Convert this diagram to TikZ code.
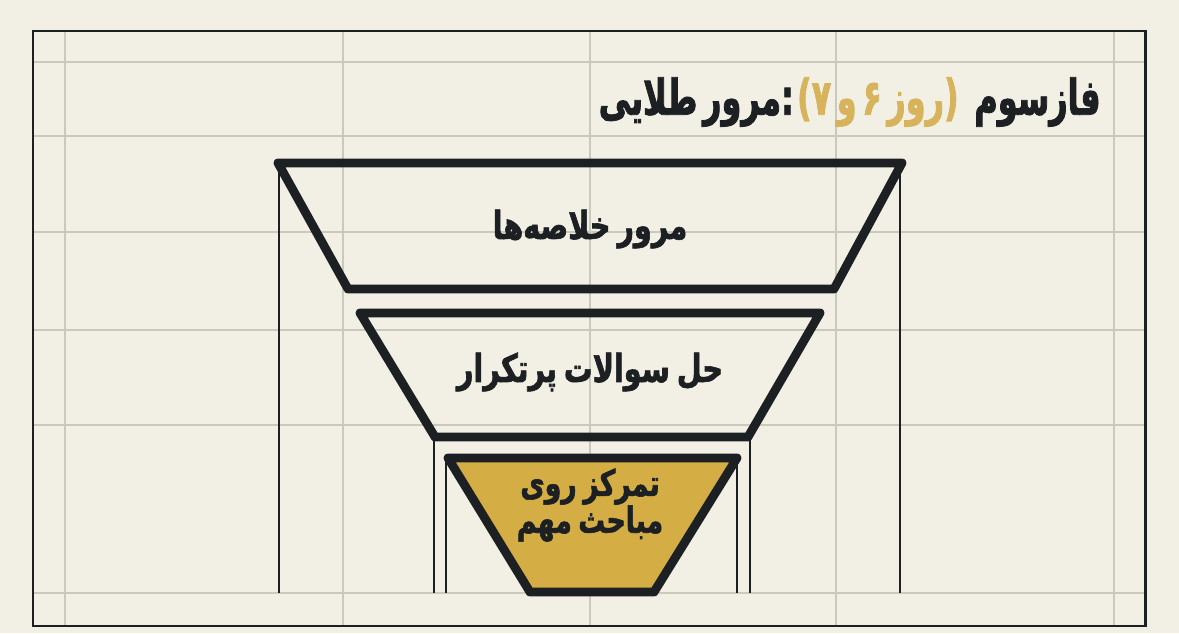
\documentclass[tikz,border=0pt]{standalone}
\usepackage{fontspec}
\usepackage{tikz}
\usetikzlibrary{positioning}
\TeXXeTstate=1
\newfontfamily\farsifont[Script=Arabic, FakeStretch=0.74, FakeBold=1.6, WordSpace=0.7]{DejaVu Sans}
\newfontfamily\titlefont[Script=Arabic, FakeStretch=0.65, FakeBold=1.6, WordSpace=0.5]{DejaVu Sans}
\newfontfamily\bracketfont[FakeStretch=0.65, FakeBold=1.6]{DejaVu Sans}
\definecolor{paper}{HTML}{F2F0E5}
\definecolor{gridgray}{HTML}{CBC8BC}
\definecolor{ink}{HTML}{1C2022}
\definecolor{goldfill}{HTML}{D4AD45}
\definecolor{goldtext}{HTML}{D7B45C}

\begin{document}
\begin{tikzpicture}[
    gridline/.style={draw=gridgray, line width=0.8pt},
    frameline/.style={draw=ink, line width=1.3pt},
    % 漏斗梯形:粗黑邊,圓角接點
    funnel/.style={draw=ink, line width=5pt, line join=round},
    titletext/.style={font=\titlefont\bfseries\fontsize{28}{32}\selectfont, text=ink, inner sep=0pt},
    funneltext/.style={font=\farsifont\bfseries\fontsize{22}{26}\selectfont, text=ink, inner sep=0pt}
]

% --- 1. 背景與格線 ---
\fill[paper] (0,0) rectangle (23.58,12.66);
\foreach \x in {1.3,6.86,11.8,16.72,22.28}
    \draw[gridline] (\x,0.14) -- (\x,12.04);
\foreach \y in {11.42,9.94,8.02,6.06,4.16,0.8}
    \draw[gridline] (0.66,\y) -- (22.9,\y);

% --- 2. 外框 ---
\draw[ink, line width=1.7pt] (0.66,0.14) rectangle (22.9,12.04);

% --- 3. 細直線 (漏斗兩側) ---
\draw[frameline] (5.58,9.36) -- (5.58,0.8);
\draw[frameline] (18.0,9.36) -- (18.0,0.8);
\draw[frameline] (8.68,3.92) -- (8.68,0.8);
\draw[frameline] (15.0,3.92) -- (15.0,0.8);
\draw[frameline] (8.92,3.5) -- (8.92,0.8);
\draw[frameline] (14.74,3.5) -- (14.74,0.8);

% --- 4. 三層梯形 ---
\draw[funnel] (5.56,9.4) -- (18.04,9.4) -- (16.68,6.88) -- (6.96,6.88) -- cycle;
\draw[funnel] (7.2,6.4) -- (16.4,6.4) -- (14.96,3.92) -- (8.7,3.92) -- cycle;
\draw[funnel, fill=goldfill] (8.96,3.5) -- (14.74,3.5) -- (13.08,0.82) -- (10.6,0.82) -- cycle;

% --- 5. 文字 ---
\node[funneltext] (summary) at (11.8,8.08) {\beginR مرور خلاصه‌ها\endR};
\node[funneltext] (frequent) at (11.8,5.22) {\beginR حل سوالات پرتکرار\endR};
\node[funneltext, align=center, font=\farsifont\bfseries\fontsize{20.5}{21}\selectfont]
    (focus) at (11.8,2.56) {\beginR تمرکز روی\endR\\\beginR مباحث مهم\endR};

% 標題 (右對齊)
\node[titletext, anchor=east] (phase) at (22.02,10.62) {\beginR فازسوم\endR};
\node[titletext, text=goldtext, left=0.3 of phase] (days)
    {{\bracketfont (}\beginR روز ۶ و ۷\endR{\bracketfont )}};
\node[titletext, left=0.05 of days] (golden) {\beginR:مرور طلایی\endR};

\end{tikzpicture}
\end{document}
